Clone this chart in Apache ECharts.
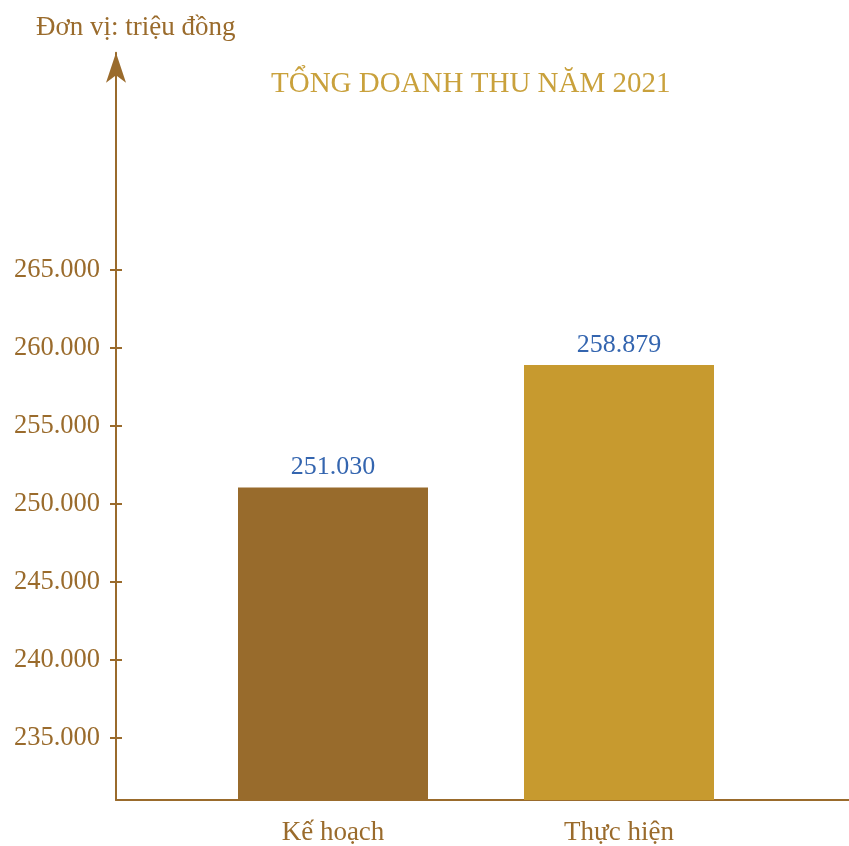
<!DOCTYPE html>
<html><head><meta charset="utf-8">
<script src="https://cdn.jsdelivr.net/npm/echarts@6/dist/echarts.min.js"></script>
<style>html,body{margin:0;padding:0;background:#fff}#c{width:849px;height:846px}</style>
</head><body><div id="c"></div>
<script>
const categories = ['Kế hoạch', 'Thực hiện'];
const values = [251030, 258879];
const barColors = ['#986B2C', '#C79A2F'];
const tickValues = [235000, 240000, 245000, 250000, 255000, 260000, 265000];
const chartTitle = 'TỔNG DOANH THU NĂM 2021';
const unitLabel = 'Đơn vị: triệu đồng';

const FONT = 'Liberation Serif';
const BROWN = '#9A6B2C';
const fmt = v => String(v).replace(/\B(?=(\d{3})+(?!\d))/g, '.');
const Y_MIN = 231000, Y_MAX = 278900;

const chart = echarts.init(document.getElementById('c'));
chart.setOption({
  animation: false,
  title: [
    {text: chartTitle, left: 266, top: 65, textStyle: {fontFamily: FONT, fontSize: 29, fontWeight: 'normal', color: '#C9A13C'}},
    {text: unitLabel, left: 31, top: 9, textStyle: {fontFamily: FONT, fontSize: 27, fontWeight: 'normal', color: BROWN}}
  ],
  grid: [
    {left: 190, right: 87, top: 52.8, bottom: 46},
    {left: 116, right: 0, top: 52.8, bottom: 46}
  ],
  xAxis: [
    {type: 'category', gridIndex: 0, data: categories,
     axisLine: {show: false}, axisTick: {show: false},
     axisLabel: {margin: 19, fontFamily: FONT, fontSize: 27, color: BROWN}},
    {type: 'value', gridIndex: 1, min: 0, max: 1,
     axisLine: {show: true, lineStyle: {color: BROWN, width: 2}},
     axisTick: {show: false}, axisLabel: {show: false}, splitLine: {show: false}}
  ],
  yAxis: [
    {type: 'value', gridIndex: 0, min: Y_MIN, max: Y_MAX, offset: 74,
     axisLine: {show: true, symbol: ['none', 'arrow'], symbolSize: [15, 30], lineStyle: {color: BROWN, width: 2}},
     axisTick: {show: true, length: 6, customValues: tickValues, lineStyle: {color: BROWN, width: 2}},
     axisLabel: {margin: 16, customValues: tickValues, formatter: fmt, fontFamily: FONT, fontSize: 26.5, color: BROWN},
     splitLine: {show: false}},
    {type: 'value', gridIndex: 0, min: Y_MIN, max: Y_MAX, position: 'left', offset: 74,
     axisLine: {show: false},
     axisTick: {show: true, inside: true, length: 6, customValues: tickValues, lineStyle: {color: BROWN, width: 2}},
     axisLabel: {show: false}, splitLine: {show: false}},
    {type: 'value', gridIndex: 1, show: false}
  ],
  series: [{
    type: 'bar', xAxisIndex: 0, yAxisIndex: 0, barWidth: 190,
    data: values.map((v, i) => ({value: v, itemStyle: {color: barColors[i]}})),
    label: {show: true, position: 'top', distance: 7, formatter: p => fmt(p.value),
            fontFamily: FONT, fontSize: 26, color: '#3465AF'}
  }]
});
</script></body></html>
